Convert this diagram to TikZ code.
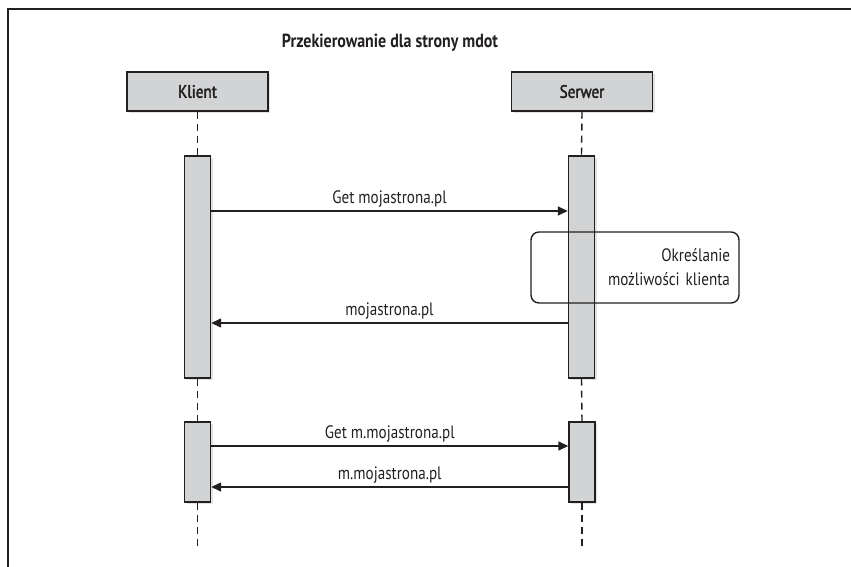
\documentclass[tikz,border=0pt]{standalone}
\usepackage{fontspec}
\setmainfont{PT Sans}[FakeStretch=0.84]
\newfontfamily\actorfont{PT Sans}[FakeStretch=0.84,FakeBold=2]
\usetikzlibrary{arrows.meta,shadows}
\definecolor{barfill}{RGB}{209,211,212}
\definecolor{ink}{RGB}{35,31,32}
\tikzset{
  shadowed/.style={drop shadow={shadow xshift=2pt,shadow yshift=-2pt,opacity=0.22}},
  actor/.style={draw=ink,fill=barfill,line width=1.4pt,minimum width=141pt,minimum height=39pt,inner sep=0pt,
    font=\actorfont\fontsize{18}{20}\selectfont,text=ink,shadowed},
  bar/.style={draw=ink,fill=barfill,line width=1.4pt,minimum width=26pt,inner sep=0pt,shadowed},
  life/.style={draw=ink,line width=1.4pt,dash pattern=on 7pt off 5pt},
  msg/.style={draw=ink,line width=1.4pt,-{Triangle[length=10pt,width=9pt]}},
  lbl/.style={font=\fontsize{18}{20}\selectfont,text=ink,above,inner sep=3pt},
  note/.style={draw=ink,line width=1.4pt,rounded corners=8pt,minimum width=208pt,minimum height=71pt,
    inner xsep=9pt,text width=190pt,align=right,font=\fontsize{18}{24}\selectfont,text=ink},
  titletext/.style={font=\bfseries\fontsize{19}{22}\selectfont,text=ink}
}
\begin{document}
\begin{tikzpicture}[x=1pt,y=-1pt]
\useasboundingbox (0,0) rectangle (851,567);
\draw[ink,line width=2.4pt] (8,567) -- (8,9) -- (851,9);
\node[titletext] (title) at (390,43) {Przekierowanie dla strony mdot};
% actors
\node[actor] (kl) at (197.5,91.5) {Klient};
\node[actor] (sv) at (582,91.5) {Serwer};
% activation bars
\node[bar,minimum height=222pt] (ka1) at (197.5,267) {};
\node[bar,minimum height=222pt] (sa1) at (581.5,267) {};
\node[bar,minimum height=80pt] (ka2) at (197.5,462) {};
\node[bar,minimum height=80pt] (sa2) at (582,462) {};
\coordinate (kend) at (197.5,549);
\coordinate (send) at (582,549);
% lifelines
\draw[life] (kl.south) -- (ka1.north);
\draw[life] (ka1.south) -- (ka2.north);
\draw[life] (ka2.south) -- (kend);
\draw[life] (sv.south) -- (sa1.north);
\draw[life] (sa1.south) -- (sa2.north);
\draw[life] (sa2.south) -- (send);
% note
\node[note] (nt) at (635,267.5) {Określanie\\możliwości klienta};
% messages
\draw[msg] (ka1.east |- 0,211) -- node[lbl] {Get mojastrona.pl} (sa1.west |- 0,211);
\draw[msg] (sa1.west |- 0,323) -- node[lbl] {mojastrona.pl} (ka1.east |- 0,323);
\draw[msg] (ka2.east |- 0,446) -- node[lbl] {Get m.mojastrona.pl} (sa2.west |- 0,446);
\draw[msg] (sa2.west |- 0,487) -- node[lbl] {m.mojastrona.pl} (ka2.east |- 0,487);
\end{tikzpicture}
\end{document}
